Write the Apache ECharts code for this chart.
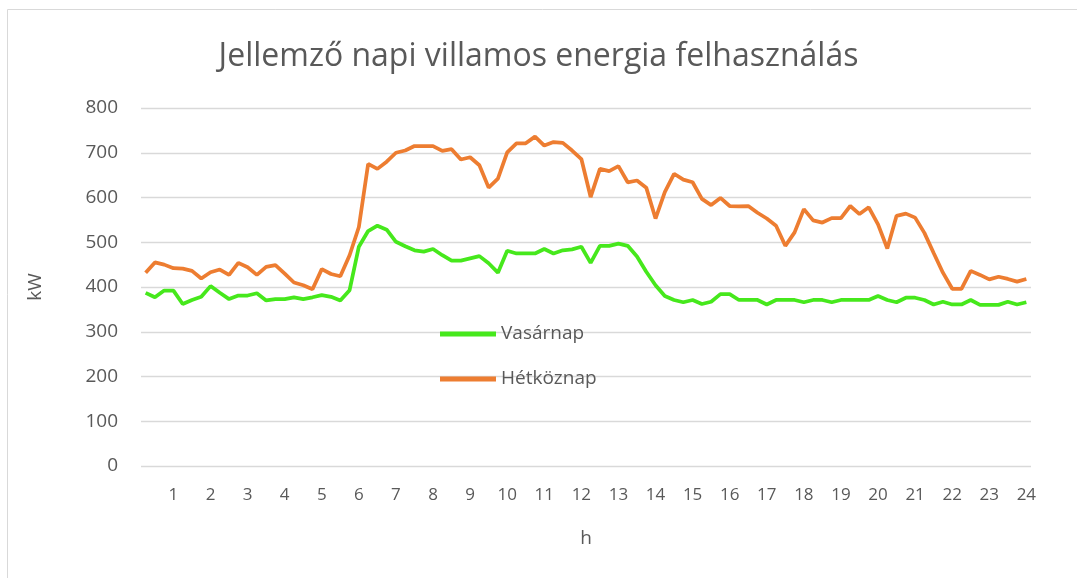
<!DOCTYPE html>
<html>
<head>
<meta charset="utf-8">
<script src="https://cdn.jsdelivr.net/npm/echarts@6/dist/echarts.min.js"></script>
<style>
  html, body { margin: 0; padding: 0; background: #fff; }
  #chart { width: 1077px; height: 578px; }
</style>
</head>
<body>
<div id="chart"></div>
<script>
// quarter-hour load values, kW
const vasarnap = [
  387, 377, 392, 392, 362, 371, 378, 402, 387, 373, 381, 381,
  386, 370, 373, 373, 377, 373, 377, 382, 378, 370, 393, 490,
  525, 537, 528, 501, 491, 482, 479, 485, 471, 459, 459, 464,
  469, 453, 432, 481, 475, 475, 475, 485, 475, 482, 484, 490,
  454, 492, 492, 497, 492, 468, 434, 404, 380, 371, 366, 371,
  362, 367, 384, 384, 371, 371, 371, 361, 371, 371, 371, 366,
  371, 371, 366, 371, 371, 371, 371, 380, 371, 366, 376, 376,
  371, 361, 367, 361, 361, 371, 360, 360, 360, 367, 361, 366
]
const hetkoznap = [
  432, 455, 450, 442, 441, 436, 419, 433, 439, 427, 454, 444,
  427, 445, 449, 430, 410, 404, 395, 440, 429, 424, 471, 534,
  675, 664, 680, 700, 705, 715, 715, 715, 704, 708, 685, 690,
  672, 622, 642, 701, 721, 721, 736, 716, 724, 722, 705, 686,
  601, 664, 659, 670, 634, 638, 622, 553, 612, 653, 640, 634,
  597, 583, 599, 581, 580, 581, 566, 553, 537, 492, 522, 574,
  549, 544, 554, 554, 581, 563, 578, 540, 486, 559, 564, 555,
  521, 476, 432, 396, 396, 436, 427, 417, 423, 418, 412, 418
]
const categories = []
for (let i = 0; i < vasarnap.length; i++) {
  const m = (i + 1) * 15
  categories.push(Math.floor(m / 60) + ':' + String(m % 60).padStart(2, '0'))
}

const font = "'Open Sans', 'Noto Sans', sans-serif"
const grey = '#595959'

const chart = echarts.init(document.getElementById('chart'))
chart.setOption({
  animation: false,
  graphic: [{
    type: 'rect',
    shape: { x: 7.5, y: 9.5, width: 1200, height: 700 },
    style: { fill: 'none', stroke: '#d9d9d9', lineWidth: 1 }
  }],
  title: {
    text: 'Jellemző napi villamos energia felhasználás',
    left: 'center',
    top: 36,
    textStyle: { fontFamily: font, fontSize: 32, fontWeight: 'normal', color: grey }
  },
  legend: {
    orient: 'vertical',
    left: 435,
    top: 317,
    itemWidth: 56,
    itemHeight: 5,
    itemGap: 21,
    icon: 'rect',
    textStyle: { fontFamily: font, fontSize: 19, color: grey, lineHeight: 24 },
    data: ['Vasárnap', 'Hétköznap']
  },
  grid: { left: 141, right: 46, top: 108, bottom: 112 },
  xAxis: {
    type: 'category',
    data: categories,
    boundaryGap: true,
    name: 'h',
    nameLocation: 'middle',
    nameGap: 63,
    nameTextStyle: { fontFamily: font, fontSize: 19, color: grey },
    axisLine: { show: false },
    axisTick: { show: false },
    axisLabel: {
      interval: (idx) => idx % 4 === 3,
      formatter: (v) => v.split(':')[0],
      fontFamily: font, fontSize: 17, color: grey, margin: 21
    }
  },
  yAxis: {
    type: 'value',
    min: 0,
    max: 800,
    interval: 100,
    name: 'kW',
    nameLocation: 'middle',
    nameGap: 96,
    nameTextStyle: { fontFamily: font, fontSize: 19, color: grey },
    axisLabel: { fontFamily: font, fontSize: 19, color: grey, margin: 23 },
    splitLine: { lineStyle: { color: '#d9d9d9', width: 1.3 } }
  },
  series: [
    {
      name: 'Vasárnap',
      type: 'line',
      data: vasarnap,
      showSymbol: false,
      color: '#46e81c',
      lineStyle: { width: 3.75 }
    },
    {
      name: 'Hétköznap',
      type: 'line',
      data: hetkoznap,
      showSymbol: false,
      color: '#ed7d31',
      lineStyle: { width: 3.75 }
    }
  ]
})
</script>
</body>
</html>
